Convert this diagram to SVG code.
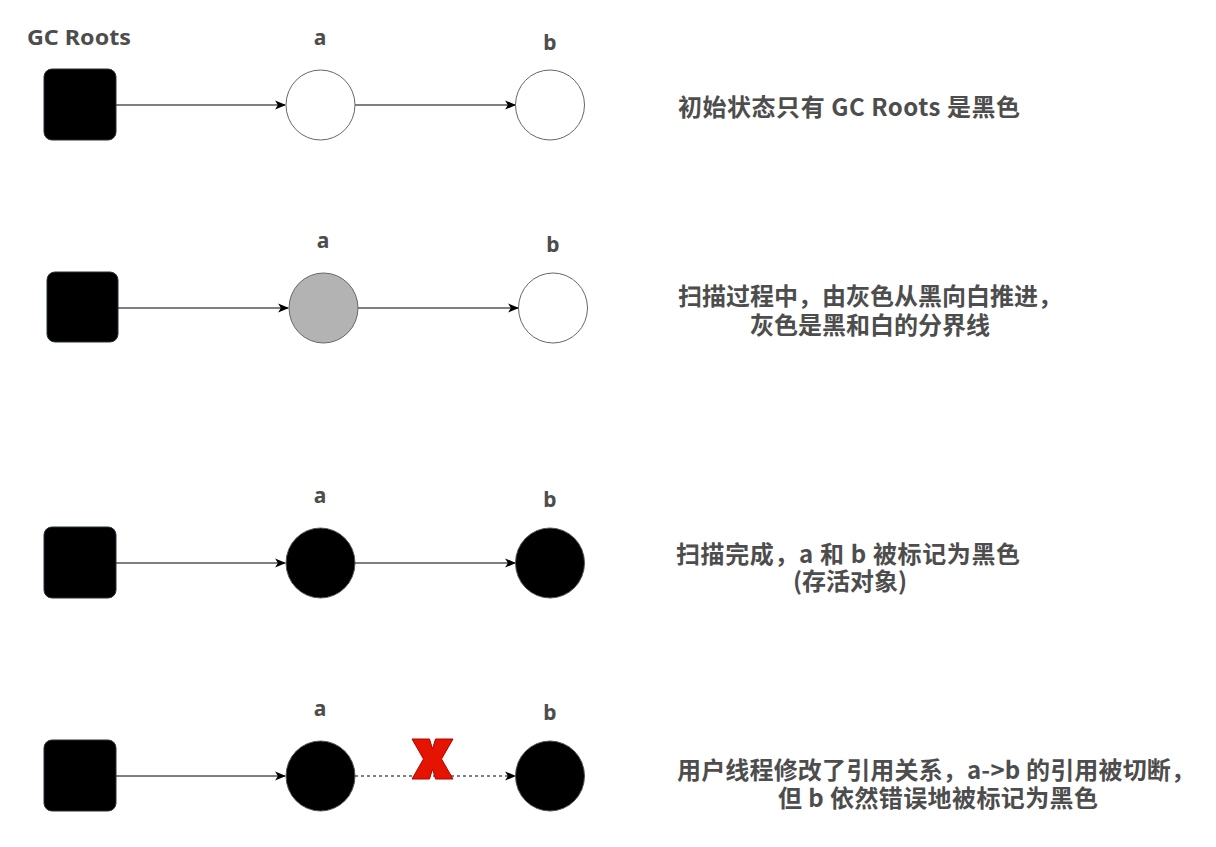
<svg xmlns="http://www.w3.org/2000/svg" width="1216" height="847" viewBox="0 0 1216 847">
<defs>
<marker id="arr" viewBox="0 0 10 10" refX="9" refY="5" markerWidth="11" markerHeight="11" markerUnits="userSpaceOnUse" orient="auto">
<path d="M0,0.8 L10,5 L0,9.2 L2.5,5 Z" fill="#000"/>
</marker>
<style>
.t{font-family:"Noto Sans CJK SC","Noto Sans",sans-serif;font-weight:bold;font-size:24px;fill:#4d4d4d;text-anchor:middle;}
.lbl{font-family:"Noto Sans","Noto Sans CJK SC",sans-serif;font-weight:bold;font-size:21px;fill:#4d4d4d;text-anchor:middle;}
.root{fill:#000;stroke:#23303d;stroke-width:1;}
.white{fill:#fff;stroke:#666;stroke-width:1;}
.gray{fill:#b3b3b3;stroke:#666;stroke-width:1;}
.black{fill:#000;stroke:#555;stroke-width:1;}
.edge{stroke:#000;stroke-width:1;fill:none;marker-end:url(#arr);}
.dash{stroke-dasharray:3,3;}
</style>
</defs>
<rect width="1216" height="847" fill="#fff"/>

<text class="lbl" x="79" y="45" textLength="104" lengthAdjust="spacingAndGlyphs">GC Roots</text>

<g id="connectors">
<line class="edge" x1="116" y1="105" x2="285" y2="105"/>
<line class="edge" x1="355" y1="105" x2="515" y2="105"/>
<line class="edge" x1="118" y1="308" x2="288" y2="308"/>
<line class="edge" x1="358" y1="308" x2="518" y2="308"/>
<line class="edge" x1="116" y1="563" x2="285" y2="563"/>
<line class="edge" x1="355" y1="563" x2="515" y2="563"/>
<line class="edge" x1="116" y1="776" x2="285" y2="776"/>
<line class="edge dash" x1="355" y1="776" x2="515" y2="776"/>
</g>

<!-- Row 1 -->
<g id="root1"><rect class="root" x="44" y="69" width="72" height="71" rx="8"/></g>
<g id="a1"><ellipse class="white" cx="320.5" cy="105" rx="34.5" ry="35"/><text class="lbl" x="320" y="45">a</text></g>
<g id="b1"><ellipse class="white" cx="550" cy="105" rx="34.5" ry="35"/><text class="lbl" x="550" y="50">b</text></g>
<g id="desc1"><text class="t" x="849" y="116" textLength="342" lengthAdjust="spacing">初始状态只有 GC Roots 是黑色</text></g>

<!-- Row 2 -->
<g id="root2"><rect class="root" x="47" y="272" width="71" height="70" rx="8"/></g>
<g id="a2"><ellipse class="gray" cx="323.5" cy="308" rx="34.5" ry="35"/><text class="lbl" x="323" y="248">a</text></g>
<g id="b2"><ellipse class="white" cx="553" cy="308" rx="34.5" ry="35"/><text class="lbl" x="553" y="252">b</text></g>
<g id="desc2"><text class="t"><tspan x="870" y="305">扫描过程中，由灰色从黑向白推进，</tspan><tspan x="870" y="334">灰色是黑和白的分界线</tspan></text></g>

<!-- Row 3 -->
<g id="root3"><rect class="root" x="44" y="527" width="72" height="71" rx="8"/></g>
<g id="a3"><ellipse class="black" cx="320.5" cy="563" rx="34.5" ry="35"/><text class="lbl" x="320" y="503">a</text></g>
<g id="b3"><ellipse class="black" cx="550" cy="563" rx="34.5" ry="35"/><text class="lbl" x="550" y="507">b</text></g>
<g id="desc3"><text class="t"><tspan x="848" y="563" textLength="344" lengthAdjust="spacing">扫描完成，a 和 b 被标记为黑色</tspan><tspan x="850" y="590">(存活对象)</tspan></text></g>

<!-- Row 4 -->
<g id="root4"><rect class="root" x="44" y="740" width="72" height="71" rx="8"/></g>
<g id="a4"><ellipse class="black" cx="320.5" cy="776" rx="34.5" ry="35"/><text class="lbl" x="320" y="716">a</text></g>
<g id="b4"><ellipse class="black" cx="550" cy="776" rx="34.5" ry="35"/><text class="lbl" x="550" y="720">b</text></g>
<g id="cross"><polygon points="412,739 429.5,739 432.5,749 435.5,739 453,739 441.5,759 453,779 435.5,779 432.5,769 429.5,779 412,779 423.5,759" fill="#e51400" stroke="#b20000" stroke-width="1"/></g>
<g id="desc4"><text class="t"><tspan x="936" y="779" textLength="518" lengthAdjust="spacing">用户线程修改了引用关系，a-&gt;b 的引用被切断，</tspan><tspan x="938" y="807" textLength="320" lengthAdjust="spacing">但 b 依然错误地被标记为黑色</tspan></text></g>
</svg>
